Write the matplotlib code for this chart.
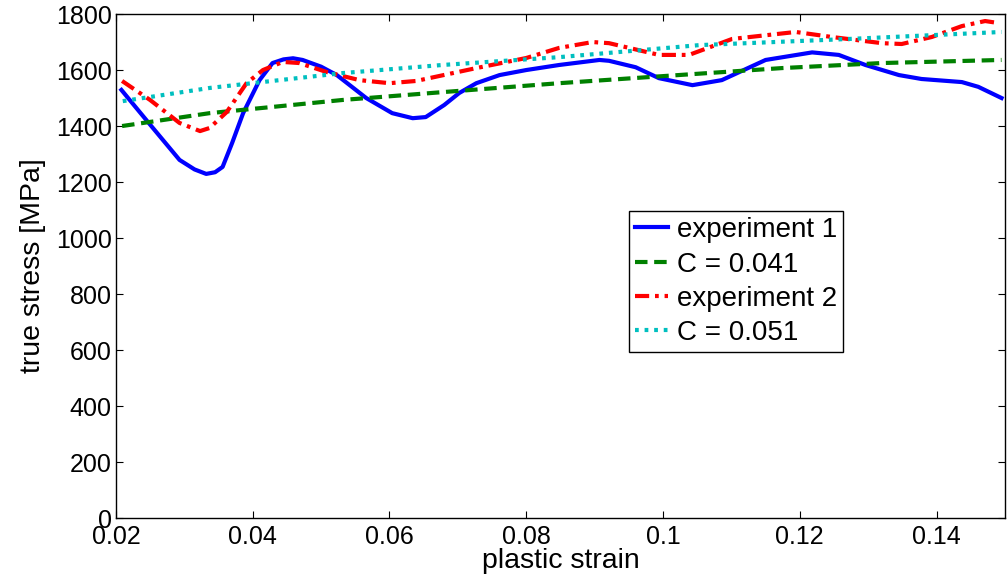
import matplotlib
matplotlib.use('Agg')
import matplotlib.pyplot as plt

plt.rcParams['font.family'] = ['Liberation Sans', 'DejaVu Sans']

# experiment 1
x_exp1 = [0.0208, 0.0250, 0.0293, 0.0315, 0.0332, 0.0345, 0.0356, 0.0370, 0.0386,
          0.0410, 0.0429, 0.0445, 0.0459, 0.0473, 0.0500, 0.0523, 0.0566, 0.0604,
          0.0634, 0.0653, 0.0680, 0.0702, 0.0727, 0.0761, 0.0800, 0.0848, 0.0907,
          0.0921, 0.0960, 0.0994, 0.1043, 0.1086, 0.1150, 0.1218, 0.1257, 0.1296,
          0.1345, 0.1378, 0.1437, 0.1461, 0.1495]
y_exp1 = [1529, 1405, 1279, 1245, 1229, 1235, 1254, 1340, 1446,
          1564, 1625, 1638, 1642, 1636, 1612, 1582, 1500, 1446,
          1428, 1432, 1475, 1518, 1553, 1582, 1600, 1618, 1636,
          1633, 1610, 1571, 1546, 1564, 1636, 1663, 1654, 1618,
          1582, 1568, 1557, 1540, 1500]

# C = 0.041
x_c041 = [0.0209, 0.0337, 0.0531, 0.0677, 0.0848, 0.0980, 0.1174, 0.1320, 0.1495]
y_c041 = [1400, 1446, 1493, 1521, 1553, 1575, 1607, 1625, 1636]

# experiment 2
x_exp2 = [0.0209, 0.0250, 0.0293, 0.0323, 0.0337, 0.0362, 0.0391, 0.0415, 0.0444,
          0.0468, 0.0508, 0.0556, 0.0600, 0.0639, 0.0727, 0.0800, 0.0848, 0.0897,
          0.0921, 0.0994, 0.1038, 0.1101, 0.1194, 0.1247, 0.1320, 0.1349, 0.1393,
          0.1437, 0.1471, 0.1490]
y_exp2 = [1561, 1493, 1411, 1382, 1393, 1450, 1553, 1600, 1629,
          1625, 1593, 1564, 1553, 1561, 1607, 1643, 1679, 1700,
          1696, 1654, 1654, 1711, 1736, 1718, 1696, 1693, 1718,
          1757, 1775, 1768]

# C = 0.051
x_c051 = [0.0210, 0.0337, 0.0531, 0.0677, 0.0848, 0.1053, 0.1272, 0.1495]
y_c051 = [1489, 1536, 1589, 1618, 1646, 1689, 1711, 1736]

xticks = [0.02, 0.04, 0.06, 0.08, 0.1, 0.12, 0.14]
xticklabels = ['0.02', '0.04', '0.06', '0.08', '0.1', '0.12', '0.14']
yticks = list(range(0, 1801, 200))

fig = plt.figure(figsize=(10.08, 5.85), dpi=100)
ax = fig.add_axes([0.115, 0.1145, 0.882, 0.8615])

ax.plot(x_exp1, y_exp1, color='#0000ff', lw=3, label='experiment 1')
ax.plot(x_c041, y_c041, color='#008000', lw=3, dashes=(3.0, 1.6), label='C = 0.041')
ax.plot(x_exp2, y_exp2, color='#ff0000', lw=3, dashes=(3.4, 1.4, 0.9, 1.4), label='experiment 2')
ax.plot(x_c051, y_c051, color='#00bfbf', lw=3, dashes=(0.9, 1.4), label='C = 0.051')

ax.set_xlim(0.02, 0.15)
ax.set_ylim(0, 1800)
ax.set_xticks(xticks)
ax.set_xticklabels(xticklabels)
ax.set_yticks(yticks)
ax.tick_params(direction='in', length=5, width=0.8, top=True, right=True,
               labelsize=18, pad=3)
ax.tick_params(axis='x', pad=5)
for s in ax.spines.values():
    s.set_linewidth(1)

ax.set_xlabel('plastic strain', fontsize=20.5, labelpad=-1)
ax.set_ylabel('true stress [MPa]', fontsize=20.5, labelpad=7)

leg = ax.legend(loc='upper left', bbox_to_anchor=(0.577, 0.609), fontsize=20,
                fancybox=False, framealpha=1, edgecolor='black',
                handlelength=1.2, handletextpad=0.3, labelspacing=0.3,
                borderpad=0.22, borderaxespad=0)
leg.get_frame().set_linewidth(1)

fig.savefig('out.png', dpi=100)
